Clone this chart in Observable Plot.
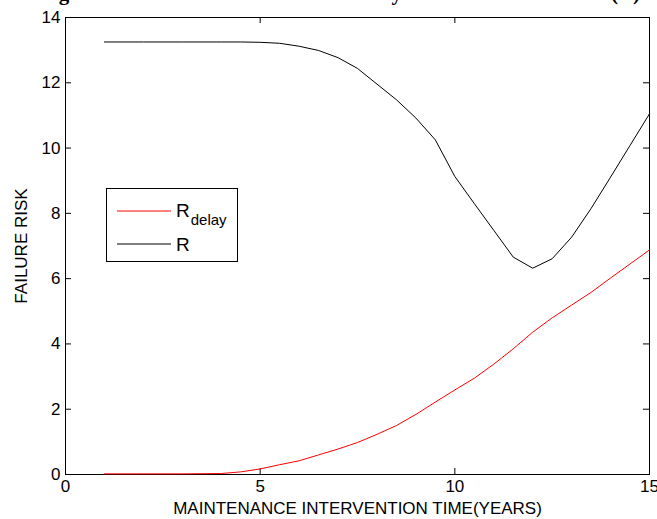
<!DOCTYPE html>
<html>
<head>
<meta charset="utf-8">
<script src="https://cdn.jsdelivr.net/npm/d3@7"></script>
<script src="https://cdn.jsdelivr.net/npm/@observablehq/plot@0.6"></script>
<style>
  html, body { margin: 0; padding: 0; background: #fff; }
  #wrap { position: relative; width: 657px; height: 519px; overflow: hidden; }
  #title { position: absolute; left: 40px; top: -17px; font: bold 21px "Liberation Serif", "Times New Roman", serif; line-height: 20px; white-space: nowrap; color: #000; }
  #legend { position: absolute; left: 106px; top: 188px; width: 130px; height: 72px; border: 1px solid #000; background: #fff; font-family: "Liberation Sans", Arial, sans-serif; }
  #legend svg { position: absolute; left: 0; top: 0; }
  #chart { position: absolute; left: 0; top: 0; }
</style>
</head>
<body>
<div id="wrap">
  <div id="chart"></div>
  <div id="title">Figure 6. Failure risk and the total delay time and the total risk (R)</div>
  <div id="legend"></div>
</div>
<script>
// Data
const years = [1, 2, 3, 4, 4.5, 5, 5.5, 6, 6.5, 7, 7.5, 8, 8.5, 9, 9.5, 10, 10.5, 11, 11.5, 12, 12.5, 13, 13.5, 14, 14.5, 15];
const riskR = [13.25, 13.25, 13.25, 13.25, 13.25, 13.24, 13.21, 13.12, 12.99, 12.77, 12.44, 11.96, 11.48, 10.92, 10.25, 9.13, 8.3, 7.48, 6.66, 6.32, 6.61, 7.27, 8.15, 9.11, 10.08, 11.05];
const riskDelay = [0.02, 0.02, 0.02, 0.03, 0.08, 0.17, 0.3, 0.42, 0.6, 0.78, 0.98, 1.23, 1.5, 1.84, 2.22, 2.59, 2.95, 3.38, 3.85, 4.36, 4.8, 5.19, 5.58, 6.02, 6.45, 6.88];
const xTicks = [0, 5, 10, 15];
const yTicks = [0, 2, 4, 6, 8, 10, 12, 14];
const seriesNames = ["R_delay", "R"];
const xLabel = "MAINTENANCE INTERVENTION TIME(YEARS)";
const yLabel = "FAILURE RISK";

const rows = years.map((t, i) => ({t, r: riskR[i], d: riskDelay[i]}));

const fontStack = '"Liberation Sans", Arial, sans-serif';
const W = 657, H = 519;
const mT = 17, mB = 45, mL = 65, mR = 8;
const xLen = 6 / ((W - mL - mR) / 15);
const yLen = 6 / ((H - mT - mB) / 14);

const chart = Plot.plot({
  width: W,
  height: H,
  marginTop: mT,
  marginBottom: mB,
  marginLeft: mL,
  marginRight: mR,
  style: {fontFamily: fontStack, fontSize: "17px", color: "#000", background: "#fff", overflow: "visible"},
  x: {domain: [0, 15]},
  y: {domain: [0, 14]},
  marks: [
    Plot.frame({stroke: "#000", strokeWidth: 1}),
    Plot.axisX({ticks: xTicks, tickSize: 0, tickPadding: 5, tickFormat: d => String(d), fontSize: 17,
      label: xLabel, labelAnchor: "center", labelOffset: 39, labelArrow: "none"}),
    Plot.axisY({ticks: yTicks, tickSize: 0, tickPadding: 5, tickFormat: d => String(d), fontSize: 17,
      label: yLabel, labelAnchor: "center", labelOffset: 51, labelArrow: "none"}),
    Plot.ruleX(xTicks, {x: d => d, y1: 0, y2: yLen, stroke: "#000"}),
    Plot.ruleX(xTicks, {x: d => d, y1: 14, y2: 14 - yLen, stroke: "#000"}),
    Plot.ruleY(yTicks, {y: d => d, x1: 0, x2: xLen, stroke: "#000"}),
    Plot.ruleY(yTicks, {y: d => d, x1: 15, x2: 15 - xLen, stroke: "#000"}),
    Plot.line(rows, {x: "t", y: "d", stroke: "#ff0000", strokeWidth: 1}),
    Plot.line(rows, {x: "t", y: "r", stroke: "#000000", strokeWidth: 1})
  ]
});
document.getElementById("chart").appendChild(chart);

// Legend
const lg = d3.select("#legend").append("svg").attr("width", 130).attr("height", 72);
lg.append("line").attr("x1", 10).attr("x2", 64).attr("y1", 22).attr("y2", 22).attr("stroke", "#ff0000");
lg.append("text").attr("x", 69).attr("y", 28).attr("font-size", 19).text("R")
  .append("tspan").attr("dy", 8).attr("dx", 1).attr("font-size", 15).text(seriesNames[0].split("_")[1]);
lg.append("line").attr("x1", 10).attr("x2", 64).attr("y1", 55).attr("y2", 55).attr("stroke", "#000");
lg.append("text").attr("x", 69).attr("y", 62).attr("font-size", 19).text(seriesNames[1]);
</script>
</body>
</html>
